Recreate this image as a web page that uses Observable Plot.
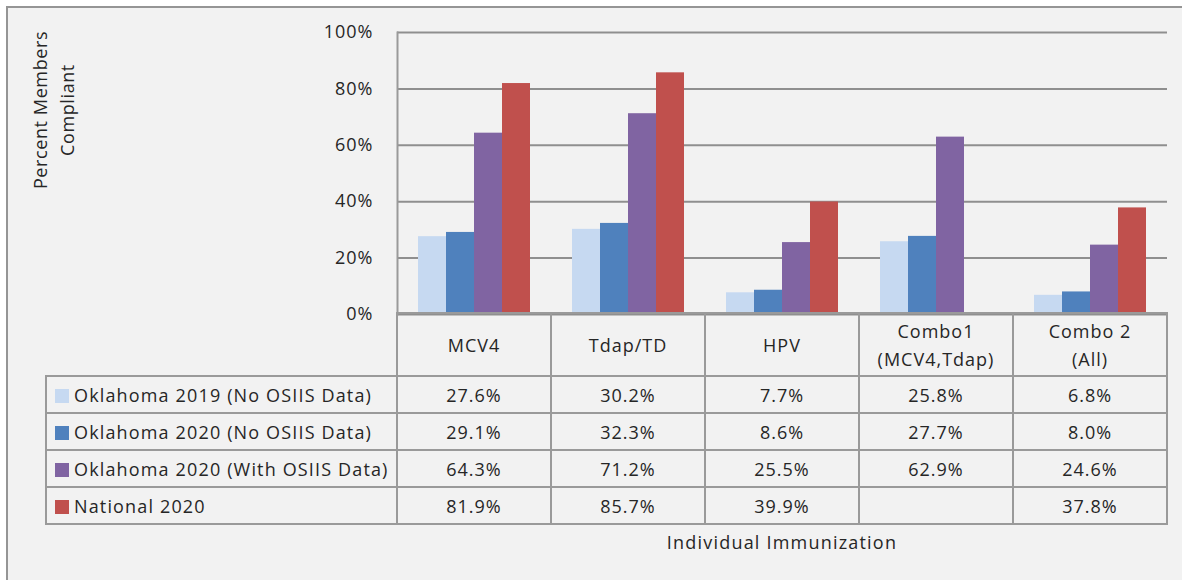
<!DOCTYPE html>
<html><head><meta charset="utf-8">
<script src="https://cdn.jsdelivr.net/npm/d3@7"></script>
<script src="https://cdn.jsdelivr.net/npm/@observablehq/plot@0.6"></script>
<style>
body{margin:0;background:#fff;font-family:"Open Sans",sans-serif;color:#262626}
#page{position:relative;width:1182px;height:580px;overflow:hidden}
#frame{position:absolute;left:6px;top:6px;width:1200px;height:600px;background:#f2f2f2;border-left:2px solid #959595;border-top:2px solid #959595}
#chart{position:absolute;left:0;top:0}
#ytitle{position:absolute;left:54px;top:110px;transform:translate(-50%,-50%) rotate(-90deg);text-align:center;line-height:27px;font-size:18px;letter-spacing:0.6px;white-space:nowrap}
#xtitle{position:absolute;left:397px;width:770px;top:529px;text-align:center;font-size:18px;letter-spacing:1.2px;line-height:26px}
table{position:absolute;left:45px;top:312px;border-collapse:collapse;table-layout:fixed}
td{border:2px solid #9a9a9a;text-align:center;font-size:18px;letter-spacing:1px;padding:0;white-space:nowrap}
tr.head td{height:61px;line-height:28px}
tr.row td{height:35px}
td.blank{border:none}
td.leg{text-align:left;padding-left:8px;letter-spacing:1.15px}
.sw{display:inline-block;width:14px;height:14px;margin-right:5px;vertical-align:-1px}
</style></head>
<body>
<div id="page">
  <div id="frame"></div>
  <div id="chart"></div>
  <div id="ytitle">Percent Members<br>Compliant</div>
  <table id="tbl"></table>
  <div id="xtitle">Individual Immunization</div>
</div>
<script>
const categories = ["MCV4", "Tdap/TD", "HPV", "Combo1\n(MCV4,Tdap)", "Combo 2\n(All)"];
const series = ["Oklahoma 2019 (No OSIIS Data)", "Oklahoma 2020 (No OSIIS Data)", "Oklahoma 2020 (With OSIIS Data)", "National 2020"];
const colors = ["#c6d9f1", "#4f81bd", "#8064a2", "#c0504d"];
const ok2019 = [27.6, 30.2, 7.7, 25.8, 6.8];
const ok2020 = [29.1, 32.3, 8.6, 27.7, 8.0];
const ok2020Osiis = [64.3, 71.2, 25.5, 62.9, 24.6];
const national2020 = [81.9, 85.7, 39.9, null, 37.8];
const yTicks = [0, 20, 40, 60, 80, 100];

const seriesValues = [ok2019, ok2020, ok2020Osiis, national2020];
const data = [];
categories.forEach((c, i) => series.forEach((s, j) => {
  const v = seriesValues[j][i];
  if (v != null) data.push({cat: c, series: s, value: v});
}));

const chart = Plot.plot({
  width: 1182, height: 580,
  marginLeft: 397, marginRight: 15, marginTop: 32, marginBottom: 266,
  style: {background: "transparent", fontFamily: "Open Sans", fontSize: "18px", color: "#262626"},
  fx: {domain: categories, padding: 0, axis: null},
  x: {domain: series, paddingInner: 0, paddingOuter: 0.68, axis: null},
  y: {domain: [0, 100], axis: null},
  color: {domain: series, range: colors},
  marks: [
    Plot.gridY(yTicks, {stroke: "#8f8f8f", strokeOpacity: 1, strokeWidth: 2}),
    Plot.barY(data, {fx: "cat", x: "series", y: "value", fill: "series"}),
    Plot.axisY(yTicks, {tickSize: 0, tickPadding: 24, tickFormat: d => d + "%", fontSize: 18, fill: "#262626", label: null}),
    Plot.frame({anchor: "left", facetAnchor: "left", stroke: "#9a9a9a", strokeWidth: 2})
  ]
});
document.getElementById("chart").appendChild(chart);
d3.select(chart).selectAll("g[aria-label='y-axis tick label'] text").style("letter-spacing", "1px");

// data table
const tbl = d3.select("#tbl");
const cg = tbl.append("colgroup");
cg.append("col").style("width", "351px");
categories.forEach(() => cg.append("col").style("width", "154px"));
const head = tbl.append("tr").attr("class", "head");
head.append("td").attr("class", "blank");
categories.forEach(c => head.append("td").html(c.split("\n").join("<br>")));
series.forEach((s, j) => {
  const tr = tbl.append("tr").attr("class", "row");
  const td = tr.append("td").attr("class", "leg");
  td.append("span").attr("class", "sw").style("background", colors[j]);
  td.append("span").text(s);
  seriesValues[j].forEach(v => tr.append("td").text(v == null ? "" : v.toFixed(1) + "%"));
});
</script>
</body></html>
